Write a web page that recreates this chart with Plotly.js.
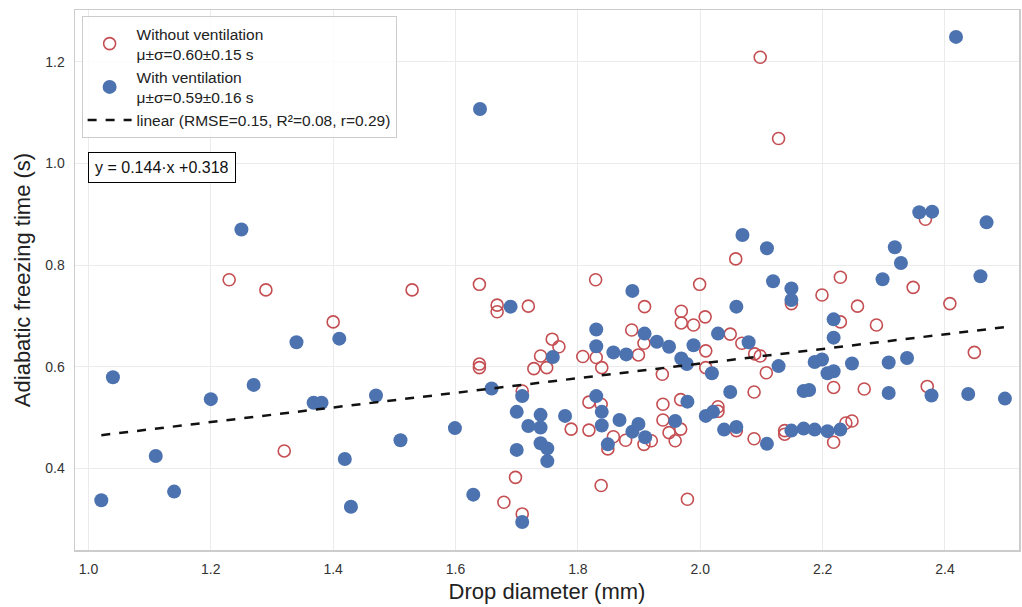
<!DOCTYPE html>
<html>
<head>
<meta charset="utf-8">
<script src="https://cdn.plot.ly/plotly-3.0.1.min.js"></script>
<style>html,body{margin:0;padding:0;background:#fff;}#chart{width:1022px;height:607px;}</style>
</head>
<body>
<div id="chart"></div>
<script>
// Without ventilation (open red circles)
const noVentD = [1.230,1.290,1.400,1.320,1.529,1.639,1.668,1.668,1.719,1.829,1.808,1.830,1.839,1.639,1.639,1.758,1.769,1.739,1.728,1.749,1.709,1.789,1.818,1.838,1.818,1.698,1.679,1.709,1.838,1.849,1.858,1.878,1.908,1.920,1.939,1.939,1.949,1.959,1.968,1.968,1.979,2.029,2.029,2.059,2.088,2.088,2.138,2.138,2.218,2.268,2.371,2.238,2.248,2.218,2.058,2.149,1.999,2.199,1.909,1.969,1.969,1.989,2.008,1.888,1.908,1.899,2.009,1.938,2.009,2.049,2.068,2.089,2.098,2.108,2.098,2.128,2.368,2.229,2.348,2.257,2.408,2.229,2.288,2.448];
const noVentT = [0.771,0.751,0.688,0.434,0.751,0.762,0.721,0.708,0.719,0.771,0.620,0.618,0.598,0.605,0.598,0.654,0.639,0.621,0.596,0.598,0.552,0.477,0.530,0.526,0.475,0.382,0.333,0.310,0.366,0.438,0.462,0.455,0.447,0.454,0.526,0.495,0.470,0.454,0.477,0.535,0.339,0.521,0.512,0.474,0.550,0.458,0.474,0.467,0.559,0.556,0.561,0.489,0.493,0.451,0.812,0.724,0.762,0.741,0.718,0.709,0.686,0.682,0.698,0.672,0.646,0.623,0.631,0.585,0.598,0.664,0.646,0.625,0.621,0.588,1.209,1.049,0.890,0.776,0.756,0.719,0.724,0.688,0.682,0.628];

// With ventilation (filled blue circles)
const ventD = [1.021,1.040,1.110,1.140,1.200,1.270,1.368,1.381,1.419,1.429,1.470,1.510,1.250,1.340,1.410,1.599,1.640,1.690,1.830,1.830,1.759,1.659,1.709,1.700,1.739,1.779,1.719,1.739,1.830,1.839,1.839,1.700,1.739,1.750,1.750,1.629,1.709,1.849,1.868,1.889,1.899,1.910,1.959,1.979,2.009,2.021,2.039,2.059,2.049,2.109,2.149,2.169,2.187,2.169,2.178,2.308,2.378,2.438,2.498,2.208,2.229,2.069,2.109,2.119,2.149,2.149,1.889,2.059,1.909,1.929,1.949,1.858,1.879,1.989,1.969,1.978,2.019,2.029,2.079,2.128,2.187,2.358,2.379,2.468,2.318,2.328,2.298,2.458,2.218,2.218,2.199,2.208,2.218,2.248,2.308,2.338,2.418];
const ventT = [0.337,0.579,0.424,0.354,0.536,0.564,0.529,0.529,0.418,0.324,0.543,0.455,0.870,0.648,0.655,0.479,1.107,0.718,0.673,0.640,0.619,0.557,0.542,0.511,0.505,0.503,0.483,0.480,0.542,0.511,0.484,0.436,0.449,0.439,0.414,0.348,0.294,0.447,0.495,0.472,0.487,0.461,0.493,0.531,0.503,0.511,0.476,0.481,0.550,0.448,0.474,0.478,0.476,0.552,0.554,0.548,0.543,0.546,0.537,0.473,0.476,0.859,0.833,0.768,0.754,0.731,0.749,0.718,0.665,0.649,0.639,0.628,0.624,0.642,0.616,0.605,0.587,0.665,0.648,0.601,0.609,0.904,0.905,0.884,0.835,0.804,0.772,0.778,0.693,0.657,0.614,0.587,0.591,0.606,0.608,0.617,1.249];

// Linear fit
const fitSlope = 0.144;
const fitIntercept = 0.318;
const legendLabels = ["Without ventilation<br>μ±σ=0.60±0.15 s", "With ventilation<br>μ±σ=0.59±0.16 s", "linear (RMSE=0.15, R²=0.08, r=0.29)"];
const equationText = "y = 0.144·x +0.318";

const allD = noVentD.concat(ventD);
const xMin = Math.min(...allD), xMax = Math.max(...allD);
const fitX = [xMin, xMax];
const fitY = fitX.map(x => fitSlope * x + fitIntercept);

const font = "Liberation Sans, Arial, sans-serif";

const traces = [
  {x: noVentD, y: noVentT, type: 'scatter', mode: 'markers', name: legendLabels[0],
   marker: {symbol: 'circle-open', size: 12, color: '#c44e52', line: {width: 1.6, color: '#c44e52'}}},
  {x: ventD, y: ventT, type: 'scatter', mode: 'markers', name: legendLabels[1],
   marker: {symbol: 'circle', size: 14, color: '#4c72b0', line: {width: 0}}},
  {x: fitX, y: fitY, type: 'scatter', mode: 'lines', name: legendLabels[2],
   line: {color: '#111', width: 2.5, dash: 'dash'}}
];

const layout = {
  width: 1022, height: 607,
  margin: {l: 75, r: 3, t: 10, b: 57},
  paper_bgcolor: '#fff', plot_bgcolor: '#fff',
  font: {family: font, size: 14, color: '#333'},
  showlegend: true,
  legend: {x: 0.007, y: 0.989, xanchor: 'left', yanchor: 'top', itemwidth: 44,
           bgcolor: 'rgba(255,255,255,0.85)', bordercolor: '#cccccc', borderwidth: 1,
           font: {family: font, size: 15.5, color: '#222'}, tracegroupgap: 0},
  xaxis: {range: [0.978, 2.521], tickvals: [1.0,1.2,1.4,1.6,1.8,2.0,2.2,2.4], tickformat: '.1f',
          showgrid: true, gridcolor: '#ebebeb', gridwidth: 1, zeroline: false,
          showline: true, linecolor: '#cccccc', linewidth: 1.5, mirror: true,
          ticks: 'outside', ticklen: 6, tickcolor: 'rgba(0,0,0,0)',
          tickfont: {family: font, size: 14, color: '#333'},
          title: {text: 'Drop diameter (mm)', font: {family: font, size: 22, color: '#222'}, standoff: 7}},
  yaxis: {range: [0.239, 1.302], tickvals: [0.4,0.6,0.8,1.0,1.2], tickformat: '.1f',
          showgrid: true, gridcolor: '#ebebeb', gridwidth: 1, zeroline: false,
          showline: true, linecolor: '#cccccc', linewidth: 1.5, mirror: true,
          ticks: 'outside', ticklen: 6, tickcolor: 'rgba(0,0,0,0)',
          tickfont: {family: font, size: 14, color: '#333'},
          title: {text: 'Adiabatic freezing time (s)', font: {family: font, size: 22, color: '#222'}, standoff: 8}},
  annotations: [{xref: 'paper', yref: 'paper', x: 0.014, y: 0.737, xanchor: 'left', yanchor: 'top',
                 text: equationText, showarrow: false, bgcolor: '#fff', bordercolor: '#000', borderwidth: 1,
                 borderpad: 6, font: {family: font, size: 16, color: '#111'}}]
};

Plotly.newPlot('chart', traces, layout, {displayModeBar: false, staticPlot: true});
</script>
</body>
</html>
